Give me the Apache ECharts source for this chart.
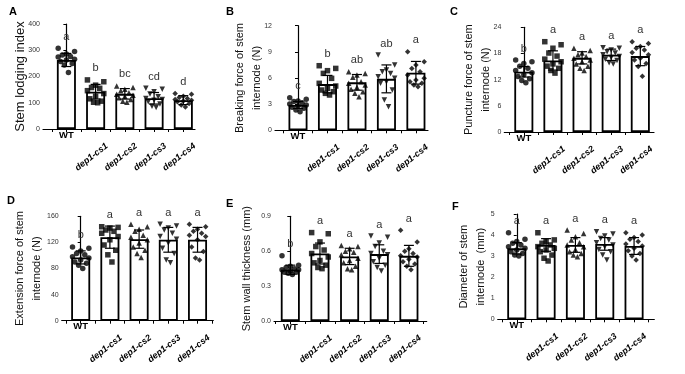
<!DOCTYPE html>
<html>
<head>
<meta charset="utf-8">
<script src="https://cdn.jsdelivr.net/npm/echarts@6/dist/echarts.min.js"></script>
<style>
  html, body { margin: 0; background: #fff; }
  #chart { width: 685px; height: 374px; }
</style>
</head>
<body>
<div id="chart"></div>
<script>
// genotypes on the x axis
const categories = ["WT", "dep1-cs1", "dep1-cs2", "dep1-cs3", "dep1-cs4"];
const panelLetters = ["A", "B", "C", "D", "E", "F"];
const axisNames = [
  "Stem lodging index",
  "Breaking force of stem\ninternode (N)",
  "Puncture force of stem\ninternode (N)",
  "Extension force of stem\ninternode (N)",
  "Stem wall thickness (mm)",
  "Diameter of stem\ninternode  (mm)",
];
const yMax = [400, 12, 24, 160, 0.9, 5];
const yStep = [100, 3, 6, 40, 0.3, 1];

// A - stem lodging index
const meansA = [263, 142, 134, 117, 110];
const sdsA = [25, 28, 20, 22, 17];
const lettersA = ["a", "b", "bc", "cd", "d"];
const pointsA = [
  [308, 295, 286, 282, 276, 274, 266, 263, 257, 250, 244, 215],
  [187, 180, 167, 158, 155, 146, 135, 125, 115, 106, 102, 100],
  [164, 158, 151, 146, 138, 132, 129, 125, 119, 112, 106, 102],
  [155, 151, 142, 133, 123, 116, 112, 110, 104, 95, 87, 82],
  [135, 132, 125, 120, 116, 112, 110, 107, 104, 97, 91, 84],
];

// B - breaking force
const meansB = [2.9, 5.3, 5.5, 5.9, 6.6];
const sdsB = [0.4, 1.0, 0.9, 1.6, 1.3];
const lettersB = ["c", "b", "ab", "ab", "a"];
const pointsB = [
  [3.74, 3.55, 3.36, 3.29, 3.17, 3.02, 2.9, 2.79, 2.64, 2.52, 2.33, 2.14],
  [7.41, 7.1, 6.84, 6.53, 5.96, 5.39, 5.08, 4.81, 4.62, 4.43, 4.24, 4.05],
  [6.73, 6.53, 6.34, 6.08, 5.58, 5.39, 5.2, 4.93, 4.7, 4.43, 4.24, 3.86],
  [8.64, 7.49, 6.92, 6.73, 6.53, 6.15, 5.96, 5.58, 5.39, 4.62, 3.48, 2.71],
  [9.02, 7.87, 7.49, 7.1, 6.73, 6.34, 5.96, 5.77, 5.58, 5.39, 5.2, 5.01],
];

// C - puncture force
const meansC = [13.8, 16.4, 17.0, 17.7, 17.4];
const sdsC = [1.2, 2.2, 1.4, 1.3, 2.2];
const lettersC = ["b", "a", "a", "a", "a"];
const pointsC = [
  [16.5, 16.1, 15.7, 15.1, 14.6, 14.1, 13.6, 13.1, 12.7, 12.2, 11.8, 11.3],
  [20.7, 20.0, 19.2, 18.1, 17.4, 16.7, 16.1, 15.6, 15.1, 14.6, 14.1, 13.5],
  [19.2, 18.7, 18.1, 17.7, 17.3, 16.9, 16.5, 16.1, 15.6, 15.1, 14.6, 14.1],
  [19.3, 19.2, 18.8, 18.4, 18.1, 17.7, 17.3, 17.1, 16.7, 16.4, 15.9, 15.6],
  [20.7, 20.3, 19.6, 19.2, 18.8, 18.2, 17.7, 16.9, 16.5, 15.7, 15.0, 12.8],
];

// D - extension force
const meansD = [97, 128, 125, 124, 124];
const sdsD = [10, 17, 14, 19, 19];
const lettersD = ["b", "a", "a", "a", "a"];
const pointsD = [
  [113, 111, 107, 103, 101, 98, 96, 93, 90, 88, 85, 80],
  [144, 143, 142, 139, 137, 134, 129, 124, 116, 108, 101, 90],
  [148, 144, 140, 137, 131, 128, 124, 119, 113, 108, 103, 97],
  [148, 145, 142, 139, 134, 129, 125, 119, 111, 103, 93, 89],
  [148, 144, 140, 137, 134, 131, 129, 124, 113, 106, 96, 93],
];

// E - stem wall thickness
const meansE = [0.44, 0.58, 0.555, 0.575, 0.56];
const sdsE = [0.04, 0.09, 0.07, 0.08, 0.09];
const lettersE = ["b", "a", "a", "a", "a"];
const pointsE = [
  [0.56, 0.48, 0.47, 0.46, 0.45, 0.44, 0.44, 0.43, 0.42, 0.42, 0.41, 0.40],
  [0.76, 0.75, 0.68, 0.64, 0.61, 0.58, 0.55, 0.52, 0.50, 0.48, 0.46, 0.45],
  [0.65, 0.64, 0.62, 0.60, 0.59, 0.57, 0.54, 0.52, 0.50, 0.47, 0.45, 0.44],
  [0.73, 0.72, 0.67, 0.64, 0.60, 0.58, 0.57, 0.54, 0.51, 0.48, 0.46, 0.43],
  [0.78, 0.68, 0.62, 0.60, 0.58, 0.56, 0.55, 0.53, 0.51, 0.49, 0.47, 0.44],
];

// F - stem diameter
const meansF = [3.37, 3.53, 3.53, 3.58, 3.48];
const sdsF = [0.27, 0.3, 0.35, 0.3, 0.4];
const lettersF = ["a", "a", "a", "a", "a"];
const pointsF = [
  [4.11, 3.80, 3.69, 3.61, 3.53, 3.45, 3.37, 3.29, 3.21, 3.13, 3.05, 3.0],
  [4.11, 3.77, 3.69, 3.61, 3.53, 3.45, 3.37, 3.29, 3.21, 3.05, 2.90, 2.77],
  [4.24, 4.08, 3.92, 3.77, 3.64, 3.53, 3.45, 3.32, 3.21, 3.13, 3.05, 2.97],
  [4.16, 4.05, 3.96, 3.84, 3.77, 3.64, 3.53, 3.45, 3.32, 3.21, 3.05, 2.82],
  [4.11, 4.0, 3.89, 3.80, 3.69, 3.58, 3.48, 3.37, 3.26, 3.13, 3.0, 2.82],
];

const panelMeans = [meansA, meansB, meansC, meansD, meansE, meansF];
const panelSds = [sdsA, sdsB, sdsC, sdsD, sdsE, sdsF];
const panelSig = [lettersA, lettersB, lettersC, lettersD, lettersE, lettersF];
const panelPoints = [pointsA, pointsB, pointsC, pointsD, pointsE, pointsF];

// pixel layout of each panel (axis extents)
const layout = [
  { left: 43, right: 195, top: 24, bottom: 129, xMin: -0.8, xMax: 4.4, nameGap: 14.5, nameSize: 13, tx: 9, ty: 6 },
  { left: 275, right: 428, top: 25.7, bottom: 130.3, xMin: -0.78, xMax: 4.41, nameGap: 9.5, nameSize: 11, tx: 226, ty: 6 },
  { left: 504.3, right: 654, top: 27.3, bottom: 132, xMin: -0.67, xMax: 4.47, nameGap: 9.5, nameSize: 11, tx: 450, ty: 6 },
  { left: 61.7, right: 213.3, top: 216.3, bottom: 320.7, xMin: -0.65, xMax: 4.54, nameGap: 16, nameSize: 11, tx: 7, ty: 195 },
  { left: 274, right: 426.7, top: 216.3, bottom: 321, xMin: -0.55, xMax: 4.6, nameGap: 19, nameSize: 11, tx: 226, ty: 198 },
  { left: 497.7, right: 654.3, top: 214, bottom: 319.3, xMin: -0.65, xMax: 4.69, nameGap: 8, nameSize: 11, tx: 452, ty: 201 },
];

const symbols = ["circle", "rect", "triangle", "triangle", "diamond"];
const symbolRot = [0, 0, 0, 180, 0];
// horizontal spread of points inside a bar
const spread = [-0.28, 0.28, 0, -0.14, 0.14, -0.28, 0.28, 0, -0.2, 0.2, -0.07, 0.07];
// slanted labels sit a little left of their tick
const labelShift = -0.14;

const FONT = "Liberation Sans";
const chart = echarts.init(document.getElementById("chart"), null, { renderer: "canvas" });

const grid = [], xAxis = [], yAxis = [], title = [], series = [];

layout.forEach((L, p) => {
  grid.push({ left: L.left, top: L.top, width: L.right - L.left, height: L.bottom - L.top });
  title.push({
    text: panelLetters[p], left: L.tx, top: L.ty, padding: 0,
    textStyle: { fontFamily: FONT, fontSize: 11, fontWeight: "bold", color: "#000" },
  });

  // ticks on category centres and half-way between them
  const ticks = [];
  for (let t = -0.5; t <= L.xMax + 1e-6; t += 0.5) ticks.push(t);

  // axis with slanted mutant labels
  xAxis.push({
    type: "value", gridIndex: p, position: "bottom", min: L.xMin, max: L.xMax,
    axisLine: { show: true, onZero: false, lineStyle: { color: "#000", width: 1.2 } },
    axisTick: { show: true, length: 3, customValues: ticks, lineStyle: { color: "#000" } },
    axisLabel: {
      customValues: [1, 2, 3, 4].map((g) => g + labelShift), rotate: 38, margin: 28,
      align: "center", verticalAlign: "middle",
      formatter: (v) => categories[Math.round(v)],
      fontFamily: FONT, fontSize: 9, fontWeight: "bold", fontStyle: "italic", color: "#000",
    },
    splitLine: { show: false },
  });
  // WT label stays horizontal
  xAxis.push({
    type: "value", gridIndex: p, position: "bottom", offset: 0, min: L.xMin, max: L.xMax,
    axisLine: { show: false, onZero: false }, axisTick: { show: false },
    axisLabel: {
      customValues: [0], margin: 1,
      formatter: () => categories[0],
      fontFamily: FONT, fontSize: 9.5, fontWeight: "bold", color: "#000",
    },
    splitLine: { show: false },
  });

  yAxis.push({
    type: "value", gridIndex: p, min: 0, max: yMax[p], interval: yStep[p],
    axisLine: { show: true, lineStyle: { color: "#000", width: 1.2 } },
    axisTick: { show: true, length: 3, lineStyle: { color: "#000" } },
    axisLabel: {
      fontFamily: FONT, fontSize: 7, color: "#333", margin: 3,
      formatter: (v) => (yStep[p] < 1 ? v.toFixed(1) : String(v)),
    },
    splitLine: { show: false },
  });
  // carrier for the axis title only
  yAxis.push({
    type: "value", gridIndex: p, position: "left", min: 0, max: yMax[p],
    name: axisNames[p], nameLocation: "middle", nameGap: L.nameGap, nameRotate: 90,
    nameTextStyle: { fontFamily: FONT, fontSize: L.nameSize, color: "#111", lineHeight: 17 },
    axisLine: { show: false }, axisTick: { show: false }, axisLabel: { show: false },
    splitLine: { show: false },
  });

  const xi = p * 2, yi = p * 2;
  series.push({
    type: "bar", xAxisIndex: xi, yAxisIndex: yi, barWidth: 19, z: 1,
    data: panelMeans[p].map((m, g) => [g, m]),
    itemStyle: { color: "#fff", borderColor: "#000", borderWidth: 1.8 },
    silent: true,
  });

  panelPoints[p].forEach((pts, g) => {
    series.push({
      type: "scatter", xAxisIndex: xi, yAxisIndex: yi, z: 3,
      symbol: symbols[g], symbolRotate: symbolRot[g], symbolSize: 5.5,
      itemStyle: { color: "#000" },
      data: pts.map((v, k) => [g + spread[k % spread.length], v]),
      silent: true,
    });
  });

  const sig = panelSig[p];
  series.push({
    type: "custom", xAxisIndex: xi, yAxisIndex: yi, z: 4, silent: true, clip: false,
    data: panelMeans[p].map((m, g) => [g, m, panelSds[p][g], Math.max(...panelPoints[p][g])]),
    encode: { x: 0, y: 1 },
    renderItem: (params, api) => {
      const x = api.value(0), m = api.value(1), s = api.value(2), top = api.value(3);
      const hi = api.coord([x, m + s]);
      const lo = api.coord([x, m - s]);
      const mx = api.coord([x, Math.max(top, m + s)]);
      const cap = 5;
      const st = { stroke: "#000", lineWidth: 1.2 };
      return {
        type: "group",
        children: [
          { type: "line", shape: { x1: hi[0], y1: hi[1], x2: lo[0], y2: lo[1] }, style: st },
          { type: "line", shape: { x1: hi[0] - cap, y1: hi[1], x2: hi[0] + cap, y2: hi[1] }, style: st },
          { type: "line", shape: { x1: lo[0] - cap, y1: lo[1], x2: lo[0] + cap, y2: lo[1] }, style: st },
          {
            type: "text",
            style: {
              text: sig[params.dataIndex], x: hi[0], y: mx[1] - 6,
              align: "center", verticalAlign: "bottom",
              font: "11px " + FONT, fill: "#333",
            },
          },
        ],
      };
    },
  });
});

chart.setOption({
  backgroundColor: "#fff",
  animation: false,
  textStyle: { fontFamily: FONT },
  title, grid, xAxis, yAxis, series,
});
</script>
</body>
</html>
